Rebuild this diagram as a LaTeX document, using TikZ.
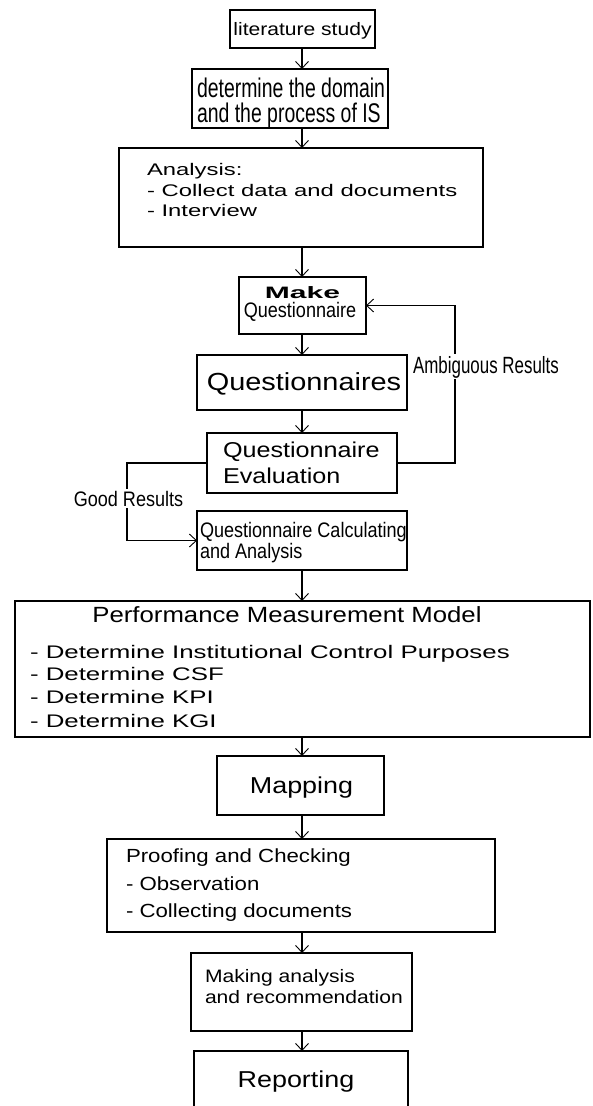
\documentclass[tikz,border=0pt]{standalone}
\usepackage{fontspec}
\setmainfont{Liberation Sans}
\newfontfamily\fW[FakeStretch=1.17]{Liberation Sans}
\newfontfamily\fWW[FakeStretch=1.42]{Liberation Sans}
\newfontfamily\fN[FakeStretch=0.72]{Liberation Sans}
\newfontfamily\fNb[FakeStretch=0.86]{Liberation Sans}
\newfontfamily\fBW[FakeStretch=1.82]{Liberation Sans}
\newcommand{\fs}[1]{\fontsize{#1}{#1}\selectfont}
\usetikzlibrary{arrows.meta}
\begin{document}
\begin{tikzpicture}[x=1pt,y=-1pt,
  box/.style={draw=black,line width=1.1pt,fill=none,inner sep=0pt,outer sep=0pt,anchor=north west},
  txt/.style={inner sep=0pt,outer sep=0pt,text=black},
  arr/.style={draw=black,line width=1.1pt,-{Straight Barb[length=7pt,width=13pt,line width=0.9pt]}},
  lbl/.style={inner sep=1.5pt,outer sep=0pt,fill=white,text=black}]
\useasboundingbox[fill=white] (0,0) rectangle (593,1106);

% guide lines for the connectors
\coordinate (axis) at (302,0);
\coordinate (ambX) at (455,0);
\coordinate (goodX) at (127,0);

% process boxes
\node[box,minimum width=145pt,minimum height=38pt] (lit)   at (230,10)  {};
\node[box,minimum width=196pt,minimum height=59pt] (dom)   at (192,69)  {};
\node[box,minimum width=364pt,minimum height=99pt] (ana)   at (119,148) {};
\node[box,minimum width=127pt,minimum height=57pt] (make)  at (239,277) {};
\node[box,minimum width=210pt,minimum height=55pt] (qs)    at (197,355) {};
\node[box,minimum width=190pt,minimum height=60pt] (eval)  at (207,433) {};
\node[box,minimum width=210pt,minimum height=59pt] (calc)  at (197,511) {};
\node[box,minimum width=575pt,minimum height=136pt] (pmm)  at (15,601)  {};
\node[box,minimum width=167pt,minimum height=59pt] (map)   at (217,756) {};
\node[box,minimum width=388pt,minimum height=93pt] (proof) at (107,839) {};
\node[box,minimum width=221pt,minimum height=78pt] (mk)    at (191,953) {};
\node[box,minimum width=214pt,minimum height=70pt] (rep)   at (194,1051) {};

% box texts
\node[txt,anchor=base] (tlit) at (302.5,35) {\fW\fs{18}literature study};
\node[txt,anchor=base west] (tdom1) at (197,97)  {\fN\fs{27}determine the domain};
\node[txt,anchor=base west] (tdom2) at (197,122) {\fN\fs{27}and the process of IS};
\node[txt,anchor=base west] (tana1) at (147,175) {\fWW\fs{16.8}Analysis:};
\node[txt,anchor=base west] (tana2) at (147,196) {\fWW\fs{16.8}- Collect data and documents};
\node[txt,anchor=base west] (tana3) at (147,216) {\fWW\fs{16.8}- Interview};
\node[txt,anchor=base] (tmake1) at (302.5,298) {\fBW\bfseries\fs{16.5}Make};
\node[txt,anchor=base] (tmake2) at (300,317) {\fNb\fs{21}Questionnaire};
\node[txt,anchor=base] (tqs) at (304,390) {\fW\fs{24.7}Questionnaires};
\node[txt,anchor=base west] (teval1) at (223,457) {\fW\fs{21.5}Questionnaire};
\node[txt,anchor=base west] (teval2) at (223,483) {\fW\fs{21.5}Evaluation};
\node[txt,anchor=base west] (tcalc1) at (200,537) {\fNb\fs{21}Questionnaire Calculating};
\node[txt,anchor=base west] (tcalc2) at (200,558) {\fNb\fs{21}and Analysis};
\node[txt,anchor=base] (tpmm) at (287,622) {\fW\fs{22}Performance Measurement Model};
\node[txt,anchor=base west] (tpmm1) at (30,658) {\fWW\fs{18.2}- Determine Institutional Control Purposes};
\node[txt,anchor=base west] (tpmm2) at (30,680) {\fWW\fs{18.2}- Determine CSF};
\node[txt,anchor=base west] (tpmm3) at (30,703) {\fWW\fs{18.2}- Determine KPI};
\node[txt,anchor=base west] (tpmm4) at (30,727) {\fWW\fs{18.2}- Determine KGI};
\node[txt,anchor=base] (tmap) at (301.5,793) {\fW\fs{23}Mapping};
\node[txt,anchor=base west] (tproof1) at (126,862) {\fW\fs{19}Proofing and Checking};
\node[txt,anchor=base west] (tproof2) at (126,890) {\fW\fs{19}- Observation};
\node[txt,anchor=base west] (tproof3) at (126,917) {\fW\fs{19}- Collecting documents};
\node[txt,anchor=base west] (tmk1) at (205,982)  {\fW\fs{18}Making analysis};
\node[txt,anchor=base west] (tmk2) at (205,1003) {\fW\fs{18}and recommendation};
\node[txt,anchor=base] (trep) at (296,1087) {\fW\fs{23}Reporting};

% main flow
\draw[arr] (lit.south -| axis)   -- (dom.north -| axis);
\draw[arr] (dom.south -| axis)   -- (ana.north -| axis);
\draw[arr] (ana.south -| axis)   -- (make.north -| axis);
\draw[arr] (make.south -| axis)  -- (qs.north -| axis);
\draw[arr] (qs.south -| axis)    -- (eval.north -| axis);
\draw[arr] (calc.south -| axis)  -- (pmm.north -| axis);
\draw[arr] (pmm.south -| axis)   -- (map.north -| axis);
\draw[arr] (map.south -| axis)   -- (proof.north -| axis);
\draw[arr] (proof.south -| axis) -- (mk.north -| axis);
\draw[arr] (mk.south -| axis)    -- (rep.north -| axis);

% feedback loops
\draw[arr] (eval.east) -- (eval.east -| ambX) |- (make.east);
\draw[arr] (eval.west) -- (eval.west -| goodX) |- (calc.west);
\node[lbl,anchor=base] (amb) at (486,373) {\fN\fs{23.5}Ambiguous Results};
\node[lbl,anchor=base] (good) at (128.5,506) {\fNb\fs{21}Good Results};
\end{tikzpicture}
\end{document}
